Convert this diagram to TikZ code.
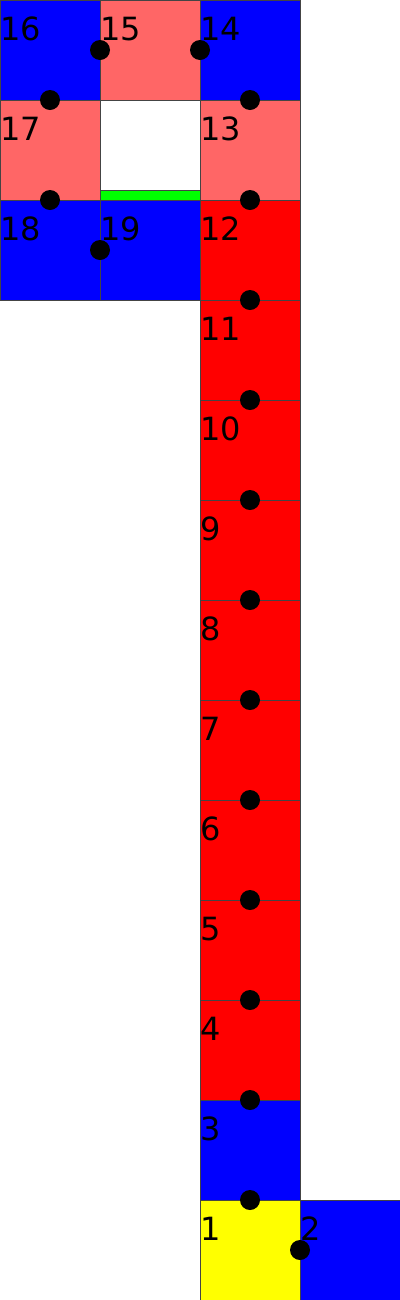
\documentclass[tikz,border=0pt]{standalone}
\usepackage{fontspec}
\setmainfont{DejaVu Sans}
\definecolor{lightred}{HTML}{FF6666}
\definecolor{cellred}{HTML}{FF0000}
\definecolor{cellblue}{HTML}{0000FF}
\definecolor{cellyellow}{HTML}{FFFF00}
\definecolor{cellgreen}{HTML}{00FF00}
\definecolor{edgegray}{HTML}{444444}
\begin{document}
\begin{tikzpicture}[x=0.75pt,y=-0.75pt,
  cell/.style={draw=edgegray, line width=0.75pt, minimum width=75pt, minimum height=75pt, inner sep=0pt, outer sep=0pt, anchor=north west},
  bar/.style={draw=edgegray, line width=0.75pt, fill=cellgreen, minimum width=75pt, minimum height=7.5pt, inner sep=0pt, outer sep=0pt, anchor=north west},
  dot/.style={circle, fill=black, minimum size=15pt, inner sep=0pt},
  lbl/.style={anchor=base west, inner sep=0pt, outer sep=0pt, font=\fontsize{24pt}{28pt}\selectfont}]
\useasboundingbox (0,0) rectangle (400,1300);
% cells
\foreach \n/\x/\y/\c in {1/200/1200/cellyellow, 2/300/1200/cellblue, 3/200/1100/cellblue,
  4/200/1000/cellred, 5/200/900/cellred, 6/200/800/cellred, 7/200/700/cellred,
  8/200/600/cellred, 9/200/500/cellred, 10/200/400/cellred, 11/200/300/cellred,
  12/200/200/cellred, 13/200/100/lightred, 14/200/0/cellblue, 15/100/0/lightred,
  16/0/0/cellblue, 17/0/100/lightred, 18/0/200/cellblue, 19/100/200/cellblue}
  \node[cell, fill=\c] (c\n) at (\x,\y) {};
\node[cell, fill=white] (hole) at (100,100) {};
\node[bar] (gbar) at (100,190) {};
% dots
\foreach \i/\x/\y in {1/250/1200, 2/300/1250, 3/250/1100, 4/250/1000, 5/250/900,
  6/250/800, 7/250/700, 8/250/600, 9/250/500, 10/250/400, 11/250/300,
  12/250/200, 13/250/100, 14/200/50, 15/100/50, 16/50/100, 17/50/200, 18/100/250}
  \node[dot] (d\i) at (\x,\y) {};
% labels
\foreach \n/\x/\y in {1/200/1200, 2/300/1200, 3/200/1100, 4/200/1000, 5/200/900,
  6/200/800, 7/200/700, 8/200/600, 9/200/500, 10/200/400, 11/200/300,
  12/200/200, 13/200/100, 14/200/0, 15/100/0, 16/0/0, 17/0/100, 18/0/200, 19/100/200}
  \node[lbl] (l\n) at (\x,\y+40) {\n};
\end{tikzpicture}
\end{document}
